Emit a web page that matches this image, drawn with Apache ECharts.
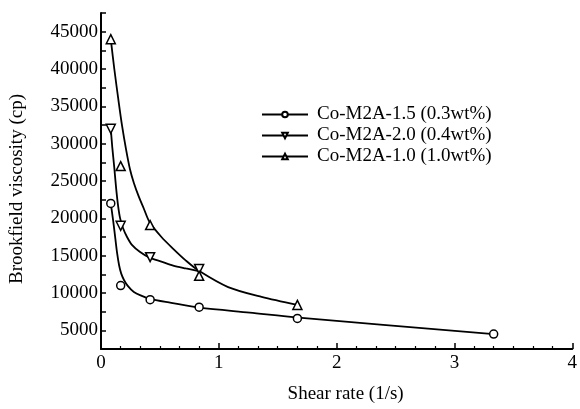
<!DOCTYPE html>
<html>
<head>
<meta charset="utf-8">
<script src="https://cdn.jsdelivr.net/npm/echarts@6/dist/echarts.min.js"></script>
<style>html,body{margin:0;padding:0;background:#fff}#c{width:580px;height:409px}</style>
</head>
<body>
<div id="c"></div>
<script>
// ---- data ----
const seriesNames = ['Co-M2A-1.5 (0.3wt%)', 'Co-M2A-2.0 (0.4wt%)', 'Co-M2A-1.0 (1.0wt%)'];
// measured points [shear rate, viscosity]
const pts15 = [[0.083, 22000], [0.167, 11000], [0.417, 9100], [0.833, 8100], [1.667, 6600], [3.333, 4500]];
const pts20 = [[0.083, 32000], [0.167, 19000], [0.417, 14800], [0.833, 13200]];
const pts10 = [[0.083, 44000], [0.167, 27000], [0.417, 19100], [0.833, 12300], [1.667, 8400]];
// fitted curves
const fit15 = [[0.083, 22000], [0.104, 19600], [0.121, 17370], [0.1375, 15260], [0.154, 13680], [0.171, 12630],
  [0.196, 11710], [0.229, 10920], [0.279, 10130], [0.346, 9610], [0.4125, 9210], [0.596, 8680], [0.8375, 8030],
  [1.2625, 7370], [1.679, 6710], [3.333, 4500]];
const fit20 = [[0.083, 32000], [0.096, 29470], [0.1125, 26840], [0.129, 23950], [0.146, 21580], [0.1625, 20000],
  [0.1875, 18680], [0.221, 17500], [0.2625, 16450], [0.329, 15530], [0.4125, 14740], [0.5125, 14210],
  [0.6125, 13680], [0.721, 13290], [0.8375, 12900]];
const fit10 = [[0.083, 44000], [0.113, 40000], [0.146, 36050], [0.179, 32370], [0.213, 29210], [0.246, 26580],
  [0.279, 24740], [0.321, 22900], [0.363, 21320], [0.413, 19470], [0.513, 17500], [0.613, 15920], [0.721, 14340],
  [0.838, 12900], [1.079, 10790], [1.363, 9470], [1.667, 8400]];
// axis ticks
const xTicks = [0, 1, 2, 3, 4];
const yLabelStep = 5000;

const font = 'Liberation Serif';
const downTri = 'path://M0,0 L10,0 L5,9 Z';
const upTri = 'path://M5,0 L10,9 L0,9 Z';
const mk = { color: '#fff', borderColor: '#000', borderWidth: 1.5, opacity: 1 };

function curve(name, data, symbol) {
  return {
    name, type: 'line', data, smooth: 0.3, showSymbol: false, symbol, symbolSize: 7,
    lineStyle: { color: '#000', width: 1.8 }, itemStyle: mk, z: 2, silent: true
  };
}
function marks(name, data, symbol, size) {
  return {
    name, type: 'scatter', data, symbol, symbolSize: size, itemStyle: mk, z: 3, silent: true
  };
}

const chart = echarts.init(document.getElementById('c'), null, { renderer: 'canvas' });
chart.setOption({
  animation: false,
  backgroundColor: '#fff',
  grid: { left: 99, right: 2, top: 13, bottom: 54 },
  legend: {
    data: seriesNames,
    orient: 'vertical', left: 256, top: 99,
    itemWidth: 46, itemHeight: 7, itemGap: 0,
    textStyle: { fontFamily: font, fontSize: 19, color: '#000', lineHeight: 21, padding: [0, 0, 0, 4] },
    selectedMode: false
  },
  xAxis: {
    type: 'value', min: xTicks[0], max: xTicks[xTicks.length - 1], interval: 1,
    name: 'Shear rate (1/s)', nameLocation: 'middle', nameGap: 36,
    nameTextStyle: { fontFamily: font, fontSize: 19, color: '#000', padding: [0, 0, 0, 18] },
    axisLine: { lineStyle: { color: '#000', width: 2 } },
    axisTick: { inside: true, length: 6, lineStyle: { color: '#000', width: 1.5 } },
    minorTick: { show: true, splitNumber: 6, length: 3, lineStyle: { color: '#000', width: 1.2 } },
    axisLabel: { fontFamily: font, fontSize: 19, color: '#000', margin: 5 },
    splitLine: { show: false }
  },
  yAxis: {
    type: 'value', min: 2500, max: 47500, interval: 2500,
    name: 'Brookfield viscosity (cp)', nameLocation: 'middle', nameGap: 74,
    nameTextStyle: { fontFamily: font, fontSize: 19, color: '#000', padding: [0, 16, 0, 0] },
    axisLine: { show: true, lineStyle: { color: '#000', width: 2 } },
    axisTick: { show: true, inside: true, length: 5, lineStyle: { color: '#000', width: 1.5 } },
    axisLabel: {
      fontFamily: font, fontSize: 19, color: '#000', margin: 3,
      formatter: v => (v % yLabelStep === 0 ? String(v) : '')
    },
    splitLine: { show: false }
  },
  series: [
    curve(seriesNames[0], fit15, 'circle'),
    curve(seriesNames[1], fit20, downTri),
    curve(seriesNames[2], fit10, upTri),
    marks(seriesNames[0], pts15, 'circle', 8),
    marks(seriesNames[1], pts20, downTri, 9),
    marks(seriesNames[2], pts10, upTri, 9)
  ]
});
</script>
</body>
</html>
